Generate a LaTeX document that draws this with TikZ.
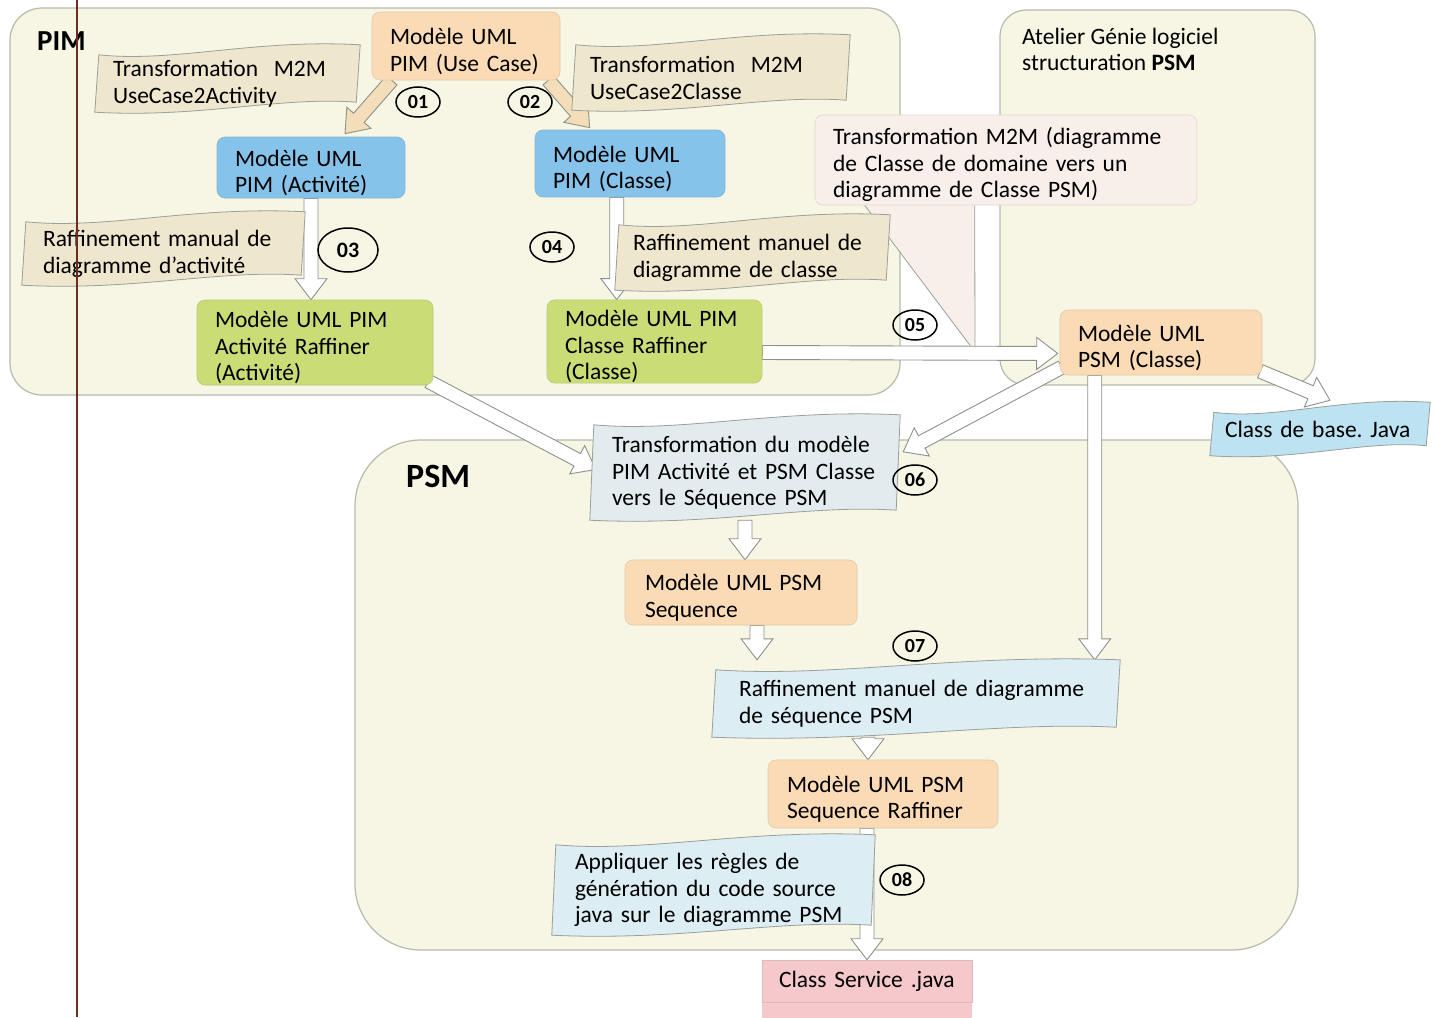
\documentclass[tikz,border=0pt]{standalone}
\usepackage{fontspec}
\setmainfont{Carlito}
\usetikzlibrary{calc,shapes.geometric}

\definecolor{regionfill}{HTML}{F7F5E4}
\definecolor{regionedge}{HTML}{B4BCAA}
\definecolor{creamwave}{HTML}{EFE6CE}
\definecolor{orangebox}{HTML}{FADBB5}
\definecolor{bluebox}{HTML}{86C3EA}
\definecolor{greenbox}{HTML}{C9DC76}
\definecolor{pinkcall}{HTML}{F8EEEA}
\definecolor{greywave}{HTML}{E2ECEE}
\definecolor{bluewave}{HTML}{DCEDF3}
\definecolor{basebox}{HTML}{BDE2F1}
\definecolor{servicebox}{HTML}{F5C8CB}
\definecolor{arrowedge}{HTML}{8C928C}
\definecolor{waveedge}{HTML}{9AA09A}
\definecolor{orangearrow}{HTML}{F4DDB9}
\definecolor{marginline}{HTML}{6A2E20}

\pgfdeclarelayer{regions}
\pgfdeclarelayer{shapes}
\pgfsetlayers{regions,shapes,main}

\tikzset{
  every node/.style={font=\fontsize{23.5}{26.5}\selectfont},
  region/.style={fill=regionfill, draw=regionedge, line width=1.2pt},
  % the strut on the first line sets a multi-line text block a little lower in its box
  firstline/.style={execute at begin node={\rule{0pt}{27pt}}},
  modelbase/.style={rounded corners=8pt, align=left, inner xsep=18pt, inner ysep=0pt,
                draw=#1!80!gray, line width=0.6pt, fill=#1},
  model/.style={modelbase=#1, firstline},
  plainbase/.style={align=left, inner xsep=18pt, inner ysep=0pt},
  plain/.style={plainbase, firstline},
  numcirc/.style={ellipse, draw=black, line width=1.5pt, inner sep=0pt,
                  minimum width=44, minimum height=30,
                  font=\bfseries\fontsize{20}{20}\selectfont},
}

% wavy banner drawn behind a text node, with a soft shadow
\newcommand\wavecurve{(\x1+4pt,\y1-10pt) .. controls (\x1+0.3*\n1,\y1-18pt) and (\x1+0.6*\n1,\y1+6pt) .. (\x2,\y1)
  -- (\x2-4pt,\y2+10pt) .. controls (\x1+0.7*\n1,\y2+16pt) and (\x1+0.4*\n1,\y2-6pt) .. (\x1,\y2) -- cycle}
\newcommand\wavefill[2]{%
  \fill[black!18, shift={(3pt,-4pt)}] let \p1=(#1.north west), \p2=(#1.south east), \n1={\x2-\x1} in \wavecurve;
  \filldraw[fill=#2, draw=waveedge, line width=0.8pt] let \p1=(#1.north west), \p2=(#1.south east), \n1={\x2-\x1} in \wavecurve;
}

% hollow block arrow between two points
\newcommand\blockarrow[3][white]{%
  \path let \p1=(#2), \p2=(#3) in
    \pgfextra{\xdef\baX{\x1}\xdef\baY{\y1}%
      \pgfmathsetmacro\baA{atan2(\y2-\y1,\x2-\x1)}\xdef\baA{\baA}%
      \pgfmathsetmacro\baL{veclen(\x2-\x1,\y2-\y1)}\xdef\baL{\baL}};
  \begin{scope}[shift={(\baX,\baY)}, rotate=\baA]
    \filldraw[fill=#1, draw=arrowedge, line width=0.9pt]
      (0,-7) -- (\baL-21,-7) -- (\baL-21,-16) -- (\baL,0) -- (\baL-21,16) -- (\baL-21,7) -- (0,7) -- cycle;
  \end{scope}}

\begin{document}
\begin{tikzpicture}[x=1pt,y=-1pt]
\useasboundingbox (0,0) rectangle (1437,1017);

% ---------- model boxes ----------
\node[model=orangebox, minimum width=188, minimum height=68, text width=152] (uc) at (466,46) {Modèle UML\\PIM (Use Case)};
\node[plain, minimum width=265, minimum height=67, text width=229] (t1) at (227.5,78.5) {Transformation~~M2M\\UseCase2Activity};
\node[plain, minimum width=278, minimum height=75, text width=242] (t2) at (711,72.5) {Transformation~~M2M\\UseCase2Classe};
\node[model=bluebox, minimum width=188, minimum height=61, text width=152] (act) at (311,167.5) {Modèle UML\\PIM (Activité)};
\node[model=bluebox, minimum width=190, minimum height=67, text width=154] (cls) at (630,163.5) {Modèle UML\\PIM (Classe)};
\node[plain, inner xsep=21pt, minimum width=283, minimum height=73, text width=241] (r1) at (163.5,248.5) {Raffinement manual de\\diagramme d’activité};
\node[plain, minimum width=275, minimum height=75, text width=239] (r2) at (752.5,252.5) {Raffinement manuel de\\diagramme de classe};
\node[model=greenbox, minimum width=236, minimum height=85, text width=200] (actr) at (315,342.5) {Modèle UML PIM\\Activité Raffiner\\(Activité)};
\node[model=greenbox, minimum width=215, minimum height=83, text width=179] (clsr) at (654.5,341.5) {Modèle UML PIM\\Classe Raffiner\\(Classe)};
\node[model=pinkcall, minimum width=382, minimum height=90, text width=346] (m2m) at (1006,160) {Transformation M2M (diagramme\\de Classe de domaine vers un\\diagramme de Classe PSM)};
\node[model=orangebox, minimum width=202, minimum height=65, text width=166] (psmc) at (1161,342.5) {Modèle UML\\PSM (Classe)};
\node[plainbase, inner xsep=15pt, minimum width=220, minimum height=53, text width=190] (base) at (1320,429) {Class de base.\ Java};
\node[plain, inner xsep=22pt, minimum width=310, minimum height=105, text width=266] (tr) at (745,467.5) {Transformation du modèle\\PIM Activité et PSM Classe\\vers le Séquence PSM};
\node[model=orangebox, inner xsep=20pt, minimum width=232, minimum height=65, text width=192] (seq) at (741,592.5) {Modèle UML PSM\\Sequence};
\node[plain, inner xsep=27pt, minimum width=408, minimum height=77, text width=354] (rs) at (916,698.5) {Raffinement manuel de diagramme\\de séquence PSM};
\node[model=orangebox, inner xsep=19pt, minimum width=230, minimum height=68, text width=192] (seqr) at (883,794) {Modèle UML PSM\\Sequence Raffiner};
\node[plain, inner xsep=23pt, minimum width=323, minimum height=100, text width=277] (app) at (713.5,885) {Appliquer les règles de\\génération du code source\\java sur le diagramme PSM};
\node[modelbase=servicebox, rounded corners=0pt, inner xsep=17pt, minimum width=210, minimum height=42, text width=176] (svc) at (867,981) {Class Service .java};

% ---------- step numbers ----------
\node[numcirc] (n01) at (418,102) {01};
\node[numcirc] (n02) at (530,102) {02};
\node[numcirc, minimum width=60, minimum height=44, font=\bfseries\fontsize{22}{22}\selectfont] (n03) at (348,250) {03};
\node[numcirc] (n04) at (552,247) {04};
\node[numcirc] (n05) at (915,325) {05};
\node[numcirc] (n06) at (915,480) {06};
\node[numcirc] (n07) at (915,646) {07};
\node[numcirc] (n08) at (902,880) {08};

% ---------- region titles ----------
\node[anchor=west, inner sep=0pt, font=\bfseries\fontsize{29}{29}\selectfont] (pimlabel) at (37,41) {PIM};
\node[anchor=west, inner sep=0pt, font=\bfseries\fontsize{34}{34}\selectfont] (psmlabel) at (406,476) {PSM};
\node[anchor=west, align=left, inner sep=0pt] (atelier) at (1022,49.5) {Atelier Génie logiciel\\structuration \textbf{PSM}};

% helper points for the straight vertical connectors
\coordinate (m2mtip) at (975,352);
\coordinate (clsout) at ($(cls.south west)+(82,0)$);
\coordinate (psmcout) at ($(psmc.south west)+(35,0)$);
\coordinate (seqout) at ($(seq.south)+(16,0)$);
\coordinate (seqrin) at ($(seqr.north)+(-15,0)$);

% ---------- regions ----------
\begin{pgfonlayer}{regions}
  \fill[white] (0,0) rectangle (1437,1017);
  \draw[region, rounded corners=32pt] (10,8) rectangle (900,395);
  \draw[region, rounded corners=26pt] (1000,10) rectangle (1315,385);
  \draw[region, rounded corners=66pt] (355,440) rectangle (1298,950);
\end{pgfonlayer}

% ---------- connectors and banners ----------
\begin{pgfonlayer}{shapes}
  % callout pointer of the M2M transformation
  \fill[pinkcall] ($(m2m.south west)+(50,-2)$) -- ($(m2m.south west)+(160,-2)$) -- (m2mtip) -- cycle;
  \draw[waveedge, line width=0.8pt] ($(m2m.south west)+(50,0)$) -- (m2mtip) -- ($(m2m.south west)+(160,0)$);

  \blockarrow[orangearrow]{$(uc.south west)+(20,0)$}{$(act.north)+(34,-3)$}
  \blockarrow[orangearrow]{$(uc.south east)+(-12,0)$}{$(cls.north west)+(55,-2)$}
  \blockarrow{act.south}{act.south |- actr.north}
  \blockarrow{clsout}{clsout |- clsr.north}
  \blockarrow{$(clsr.east)+(0,11)$}{$(psmc.west)+(-2,11)$}
  \blockarrow{$(psmc.south east)+(-2,-4)$}{$(base.north)+(10,-2)$}
  \blockarrow{$(psmc.south west)+(2,-8)$}{$(tr.north east)+(3,37)$}
  \blockarrow{psmcout}{psmcout |- rs.north}
  \blockarrow{$(actr.south east)+(-5,-4)$}{$(tr.west)+(6,2)$}
  \blockarrow{tr.south}{tr.south |- seq.north}
  \blockarrow{seqout}{seqout |- rs.north}
  \blockarrow{seqrin |- rs.south}{seqrin}
  \blockarrow{svc.north |- seqr.south}{svc.north}

  \wavefill{t1}{creamwave}
  \wavefill{t2}{creamwave}
  \wavefill{r1}{creamwave}
  \wavefill{r2}{creamwave}
  \wavefill{base}{basebox}
  \wavefill{tr}{greywave}
  \wavefill{rs}{bluewave}
  \wavefill{app}{bluewave}

  \fill[servicebox] (svc.north west) rectangle ($(svc.south east)+(0,20)$);
\end{pgfonlayer}

% margin rule
\draw[marginline, line width=1.6pt] (77,0) -- (77,1017);
\end{tikzpicture}
\end{document}
